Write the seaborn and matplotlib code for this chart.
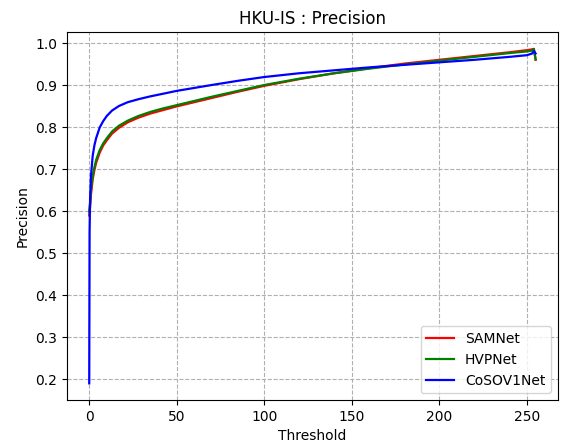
import matplotlib
matplotlib.use("Agg")
import matplotlib.pyplot as plt
import seaborn as sns
import pandas as pd

# Binarization thresholds and precision values per model
thresholds = [0, 0.2, 0.5, 1, 2, 3, 4, 6, 8, 10, 13, 17, 22, 28, 35, 42, 50,
              60, 70, 85, 100, 120, 140, 160, 180, 200, 220, 240, 250, 253, 254, 255]
samnet = [0.59, 0.60, 0.61, 0.64, 0.677, 0.699, 0.716, 0.740, 0.757, 0.769,
          0.785, 0.799, 0.812, 0.823, 0.833, 0.841, 0.850, 0.860, 0.870, 0.885,
          0.899, 0.915, 0.929, 0.941, 0.952, 0.961, 0.970, 0.979, 0.984, 0.986,
          0.987, 0.961]
hvpnet = [0.60, 0.61, 0.62, 0.65, 0.685, 0.706, 0.723, 0.746, 0.762, 0.774,
          0.790, 0.804, 0.816, 0.827, 0.837, 0.845, 0.853, 0.863, 0.873, 0.887,
          0.901, 0.916, 0.929, 0.940, 0.950, 0.959, 0.968, 0.977, 0.981, 0.983,
          0.987, 0.962]
cosov1net = [0.19, 0.55, 0.63, 0.685, 0.733, 0.758, 0.775, 0.800, 0.815, 0.827,
             0.840, 0.851, 0.860, 0.867, 0.874, 0.880, 0.887, 0.894, 0.901, 0.911,
             0.920, 0.929, 0.936, 0.943, 0.949, 0.955, 0.961, 0.968, 0.972, 0.976,
             0.982, 0.976]

models = ["SAMNet", "HVPNet", "CoSOV1Net"]
colors = ["red", "green", "blue"]
series = [samnet, hvpnet, cosov1net]

fig, ax = plt.subplots(figsize=(5.67, 4.47), dpi=100)
fig.subplots_adjust(left=0.118, right=0.984, top=0.928, bottom=0.105)

for name, col, vals in zip(models, colors, series):
    df = pd.DataFrame({"Threshold": thresholds, "Precision": vals})
    sns.lineplot(data=df, x="Threshold", y="Precision", color=col,
                 linewidth=1.6, label=name, ax=ax)

ax.grid(True, linestyle="--", color="#b0b0b0", linewidth=0.8)
ax.set_title("HKU-IS : Precision", fontsize=12)
ax.set_xlabel("Threshold", fontsize=10)
ax.set_ylabel("Precision", fontsize=10)
ax.legend(loc="lower right", fontsize=10)

fig.savefig("out.png", dpi=100)
